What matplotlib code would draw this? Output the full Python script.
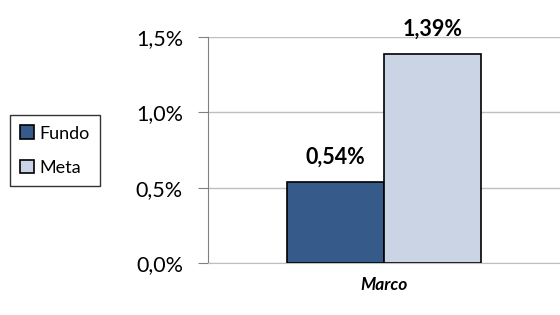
import matplotlib
matplotlib.use("Agg")
import matplotlib.pyplot as plt
import numpy as np

categories = ["Marco"]
series = ["Fundo", "Meta"]
fundo = [0.54]
meta = [1.39]
yticks = [0.0, 0.5, 1.0, 1.5]
ytick_labels = ["0,0%", "0,5%", "1,0%", "1,5%"]

plt.rcParams['font.family'] = ['Lato', 'DejaVu Sans']

fig = plt.figure(figsize=(5.6, 3.15), dpi=100)
ax = fig.add_axes([0.3714, 0.165, 0.6286, 0.7175])

x = np.arange(len(categories))
w = 0.275
colors = ["#365A8A", "#CAD4E5"]
b1 = ax.bar(x - w/2, fundo, w, color=colors[0], edgecolor="black", linewidth=1.2, label=series[0], zorder=3)
b2 = ax.bar(x + w/2, meta, w, color=colors[1], edgecolor="black", linewidth=1.2, label=series[1], zorder=3)

for bars, vals in ((b1, fundo), (b2, meta)):
    for r, v in zip(bars, vals):
        ax.text(r.get_x() + r.get_width()/2, v + 0.12, f"{v:.2f}%".replace(".", ","),
                ha="center", va="baseline", fontsize=15.5, fontweight="bold")

ax.set_xlim(-0.5, 0.5)
ax.set_ylim(0, 1.5)
ax.set_yticks(yticks)
ax.set_yticklabels(ytick_labels, fontsize=15.5)
ax.set_xticks(x)
ax.set_xticklabels(categories, fontsize=12.5, fontstyle="italic", fontweight="bold")
ax.tick_params(axis="x", length=0, pad=10)
ax.tick_params(axis="y", length=7, color="#808080", pad=11)
ax.grid(axis="y", color="#BFBFBF", linewidth=1, zorder=0)
for s in ("top", "right"):
    ax.spines[s].set_visible(False)
ax.spines["left"].set_color("#808080")
ax.spines["bottom"].set_color("#BFBFBF")

fig.legend(handles=[b1, b2], labels=series, loc="center left", bbox_to_anchor=(0.018, 0.522),
           frameon=True, fancybox=False, edgecolor="black", fontsize=13,
           handlelength=0.8, handleheight=0.8, handletextpad=0.3, borderpad=0.55, labelspacing=1.0,
           borderaxespad=0)

fig.savefig("out.png", dpi=100)
